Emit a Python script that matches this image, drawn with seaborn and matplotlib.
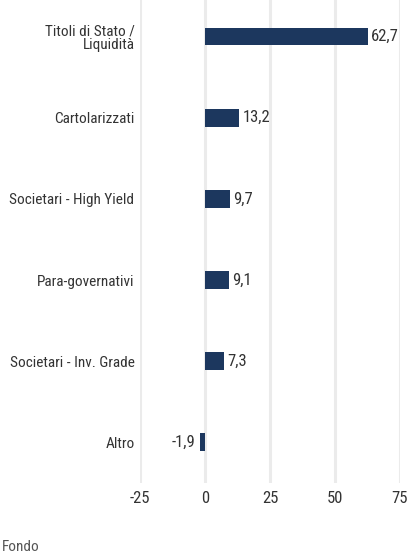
import matplotlib
matplotlib.use("Agg")
import matplotlib.pyplot as plt
from matplotlib import font_manager
import seaborn as sns
import pandas as pd

categories = ["Titoli di Stato /\nLiquidità", "Cartolarizzati", "Societari - High Yield",
              "Para-governativi", "Societari - Inv. Grade", "Altro"]
values = [62.7, 13.2, 9.7, 9.1, 7.3, -1.9]
ticks = [-25, 0, 25, 50, 75]

df = pd.DataFrame({"categoria": categories, "valore": values})

sns.set_style("white")
names = {f.name for f in font_manager.fontManager.ttflist}
fam = "Roboto"
for cand in ["Roboto Condensed", "Liberation Sans Narrow", "Open Sans Condensed"]:
    if cand in names:
        fam = cand
        break
narrow = fam != "Roboto"
fs_cat = 11 if narrow else 9.5
fs_num = 12 if narrow else 10.5
plt.rcParams["font.family"] = [fam, "DejaVu Sans"]

fig = plt.figure(figsize=(4.19, 5.55), dpi=100)
ax = fig.add_axes([140 / 419, 1 - 483 / 555, 260 / 419, 483 / 555])
sns.barplot(data=df, x="valore", y="categoria", color="#1c375e", width=0.22,
            saturation=1, linewidth=0, ax=ax, zorder=3)
ax.set_xlim(-25, 75)
ax.set_ylim(5.5, -0.45)
ax.set_xticks(ticks)
ax.set_xticklabels([str(t) for t in ticks], fontsize=fs_num, color="#333333")
ax.set_yticks(range(len(categories)))
ax.set_yticklabels(categories, linespacing=1.0, fontsize=fs_cat, color="#333333")
ax.tick_params(axis="y", length=0, pad=4)
ax.tick_params(axis="x", length=0, pad=6)
ax.grid(axis="x", color="#ebebeb", linewidth=2.2, zorder=0)
ax.set_xlabel("")
ax.set_ylabel("")
for s in ax.spines.values():
    s.set_visible(False)

for i, v in enumerate(values):
    lbl = f"{v:.1f}".replace(".", ",")
    if v >= 0:
        ax.text(v + 1.2, i, lbl, va="center", ha="left", fontsize=fs_num, color="#333333")
    else:
        ax.text(v - 1.8, i, lbl, va="center", ha="right", fontsize=fs_num, color="#333333")

fig.text(2 / 419, 1 - 547 / 555, "Fondo", fontsize=fs_cat, color="#555555", va="center")

fig.savefig("out.png", dpi=100)
